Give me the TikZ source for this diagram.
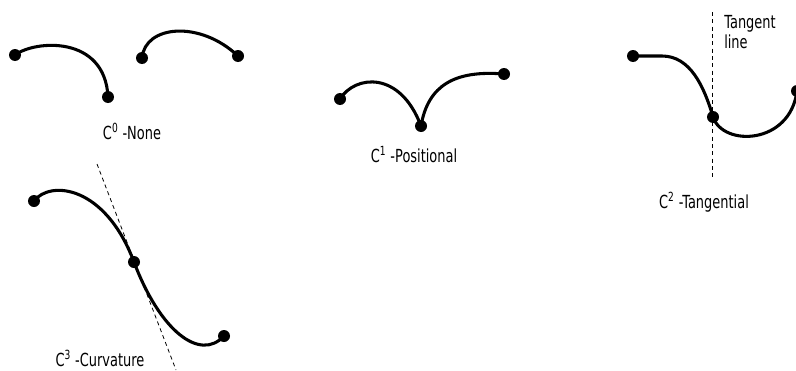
\documentclass[tikz,border=0pt]{standalone}
\usepackage{fontspec}
\setmainfont{DejaVu Sans}[FakeStretch=0.72]
\usepackage{tikz}
\tikzset{
  dot/.style={circle,fill=black,inner sep=0pt,minimum size=9pt},
  curve/.style={line width=2.3pt},
  tangent/.style={dashed,line width=0.6pt,dash pattern=on 3pt off 2.5pt},
  lbl/.style={font=\fontsize{13.5}{15}\selectfont,inner sep=0pt}
}
\newcommand{\cont}[2]{C\textsuperscript{#1} -#2}

\begin{document}
\begin{tikzpicture}[x=0.75pt,y=-0.75pt]
\useasboundingbox (0,0) rectangle (796,371);
% C0: two separate pieces
\node[dot] (a1) at (15,55) {};
\node[dot] (a2) at (108,97) {};
\node[dot] (a3) at (142,58) {};
\node[dot] (a4) at (238,56) {};
\draw[curve] (a1.center) .. controls (35,40) and (105,35) .. (a2.center);
\draw[curve] (a3.center) .. controls (145,25) and (200,20) .. (a4.center);
\node[lbl] (la) at (132,131) {\cont{0}{None}};
% C1: shared point, corner
\node[dot] (b1) at (340,99) {};
\node[dot] (b2) at (421,126) {};
\node[dot] (b3) at (504,74) {};
\draw[curve] (b1.center) .. controls (355,75) and (400,70) .. (b2.center);
\draw[curve] (b2.center) .. controls (428,85) and (455,70) .. (b3.center);
\node[lbl] (lb) at (414,155) {\cont{1}{Positional}};
% C2: common tangent
\coordinate (t1) at (712,12);
\coordinate (t2) at (712,178);
\draw[tangent] (t1) -- (t2);
\node[dot] (c1) at (633,56) {};
\node[dot] (c2) at (713,117) {};
\node[dot] (c3) at (797,91) {};
\draw[curve] (c1.center) -- (662,56) .. controls (690,56) and (704,86) .. (c2.center);
\draw[curve] (c2.center) .. controls (723,147) and (790,145) .. (c3.center);
\node[lbl,align=left,anchor=north west] (lt) at (724,15) {Tangent\\line};
\node[lbl] (lc) at (704,202) {\cont{2}{Tangential}};
% C3: common curvature
\coordinate (s1) at (97,164);
\coordinate (s2) at (176,370);
\draw[tangent] (s1) -- (s2);
\node[dot] (d1) at (34,201) {};
\node[dot] (d2) at (134,262) {};
\node[dot] (d3) at (224,336) {};
\draw[curve] (d1.center) .. controls (50,180) and (105,185) .. (d2.center);
\draw[curve] (d2.center) .. controls (160,331) and (200,362) .. (d3.center);
\node[lbl,anchor=base] (ld) at (100,366) {\cont{3}{Curvature}};
\end{tikzpicture}
\end{document}
